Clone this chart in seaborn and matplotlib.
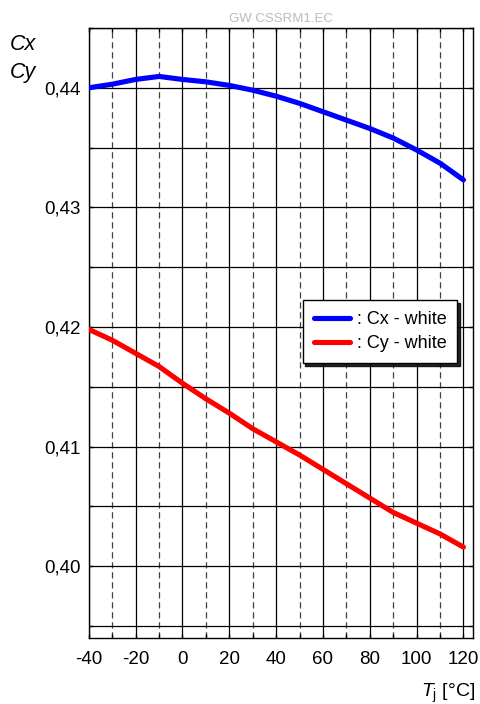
import numpy as np
import pandas as pd
import matplotlib
matplotlib.use("Agg")
import matplotlib.pyplot as plt
from matplotlib.ticker import MultipleLocator, FuncFormatter
import seaborn as sns

temps = [-40, -30, -20, -10, 0, 10, 20, 30, 40, 50, 60, 70, 80, 90, 100, 110, 120]
cx_white = [0.4400, 0.4403, 0.4407, 0.44095, 0.4407, 0.4405, 0.4402, 0.4398, 0.4393,
            0.4387, 0.4380, 0.4373, 0.4366, 0.4358, 0.4348, 0.4337, 0.4323]
cy_white = [0.4198, 0.4189, 0.4178, 0.4167, 0.4153, 0.4140, 0.4128, 0.4115, 0.4104,
            0.4093, 0.4081, 0.4069, 0.4057, 0.4045, 0.4036, 0.4027, 0.4016]
series_names = [": Cx - white", ": Cy - white"]
series_colors = ["#0000ff", "#ff0000"]

df = pd.DataFrame({
    "Tj": temps * 2,
    "value": cx_white + cy_white,
    "series": [series_names[0]] * len(temps) + [series_names[1]] * len(temps),
})

sns.set_style("ticks")
plt.rcParams['font.family'] = ['Liberation Sans', 'DejaVu Sans']
plt.rcParams['text.color'] = 'black'
plt.rcParams['mathtext.fontset'] = 'custom'
plt.rcParams['mathtext.rm'] = 'Liberation Sans'
plt.rcParams['mathtext.it'] = 'Liberation Sans:italic'

fig = plt.figure(figsize=(4.8, 7.04), dpi=100)
ax = fig.add_axes([0.185, 1 - 638 / 704, 0.8, 610 / 704])

sns.lineplot(data=df, x="Tj", y="value", hue="series", palette=series_colors,
             linewidth=3.7, ax=ax, zorder=5)

ax.set_xlim(-40, 124)
ax.set_ylim(0.394, 0.445)

ax.xaxis.set_major_locator(MultipleLocator(20))
ax.xaxis.set_minor_locator(MultipleLocator(10))
ax.yaxis.set_major_locator(MultipleLocator(0.01))
ax.yaxis.set_minor_locator(MultipleLocator(0.005))
ax.yaxis.set_major_formatter(FuncFormatter(lambda v, p: f"{v:.2f}".replace(".", ",")))
ax.xaxis.set_major_formatter(FuncFormatter(lambda v, p: f"{v:.0f}"))

ax.grid(True, which='major', axis='x', color='black', linewidth=0.9)
ax.grid(True, which='minor', axis='x', color='0.25', linewidth=0.9, linestyle=(0, (5, 3)))
ax.grid(True, which='both', axis='y', color='black', linewidth=0.9)

ax.tick_params(which='both', direction='in', top=True, right=True, labelsize=13.5,
               length=3, width=1, color='black', labelcolor='black')
ax.tick_params(axis='x', pad=9)
ax.tick_params(axis='y', pad=6)
ax.tick_params(which='minor', labelbottom=False, labelleft=False)
for s in ax.spines.values():
    s.set_color('black')
    s.set_linewidth(1.0)

ax.set_xlabel("")
ax.set_ylabel("")

leg = ax.legend(loc='upper left', bbox_to_anchor=(0.557, 0.554), frameon=True,
                shadow={'color': 'black', 'alpha': 0.85}, fancybox=False, fontsize=13,
                handlelength=2.0, borderpad=0.6, labelspacing=0.4, handletextpad=0.4,
                borderaxespad=0)
leg.get_frame().set_edgecolor('black')
leg.get_frame().set_linewidth(1.0)
leg.set_zorder(10)

fig.text(281 / 480, 1 - 22 / 704, "GW CSSRM1.EC", ha='center', va='baseline',
         fontsize=9.5, color='#bbbbbb')
fig.text(10 / 480, 1 - 50 / 704, "Cx", ha='left', va='baseline', fontsize=15.5, style='italic')
fig.text(10 / 480, 1 - 78 / 704, "Cy", ha='left', va='baseline', fontsize=15.5, style='italic')
fig.text(475 / 480, 1 - 697 / 704, r"$T_{\mathrm{j}}$ [°C]", ha='right', va='baseline',
         fontsize=14)

fig.savefig("out.png", dpi=100)
